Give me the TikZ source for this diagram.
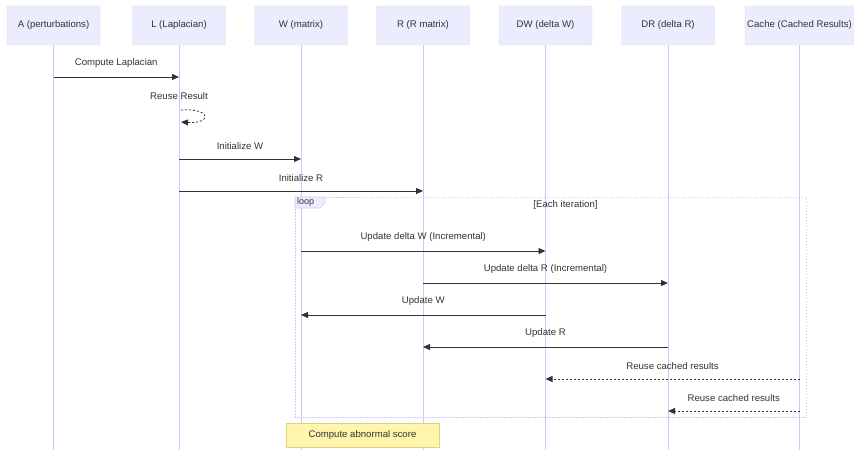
\documentclass[tikz,border=0pt]{standalone}
\usepackage{fontspec}
\setmainfont{Liberation Sans}
\usetikzlibrary{arrows.meta}
\definecolor{actorfill}{HTML}{ECECFF}
\definecolor{actorline}{HTML}{DCD8F6}
\definecolor{lifecol}{HTML}{CFC8F4}
\definecolor{ink}{HTML}{333333}
\definecolor{notefill}{HTML}{FFF5AD}
\definecolor{noteline}{HTML}{DDD47A}
\tikzset{
  actor/.style={draw=actorline,fill=actorfill,rounded corners=1pt,minimum width=93pt,minimum height=39pt,
    text=ink,font=\fontsize{9.6}{11}\selectfont,inner sep=2pt},
  lifeline/.style={draw=lifecol,line width=0.8pt},
  msg/.style={draw=ink,line width=0.8pt,-{Triangle[length=7pt,width=6pt]}},
  reply/.style={msg,dash pattern=on 2pt off 2pt},
  msglabel/.style={text=ink,font=\fontsize{9.6}{11}\selectfont,above=6pt},
  loopframe/.style={draw=lifecol,line width=0.6pt,dash pattern=on 1.5pt off 1.5pt},
  notebox/.style={draw=noteline,fill=notefill,minimum width=153pt,minimum height=24pt,
    text=ink,font=\fontsize{9.6}{11}\selectfont}
}
\begin{document}
\begin{tikzpicture}[x=1pt,y=-1pt]
\useasboundingbox[fill=white] (0,0) rectangle (854,450);
% participants
\node[actor] (A) at (53.5,25.5) {A (perturbations)};
\node[actor] (L) at (179,25.5) {L (Laplacian)};
\node[actor] (W) at (301,25.5) {W (matrix)};
\node[actor] (R) at (423,25.5) {R (R matrix)};
\node[actor] (DW) at (545.5,25.5) {DW (delta W)};
\node[actor] (DR) at (668,25.5) {DR (delta R)};
\node[actor,minimum width=109pt] (Cache) at (799.5,25.5) {Cache (Cached Results)};
% lifelines
\coordinate (bot) at (0,450);
\draw[lifeline] (A.south) -- (A |- bot);
\draw[lifeline] (L.south) -- (L |- bot);
\draw[lifeline] (W.south) -- (W |- bot);
\draw[lifeline] (R.south) -- (R |- bot);
\draw[lifeline] (DW.south) -- (DW |- bot);
\draw[lifeline] (DR.south) -- (DR |- bot);
\draw[lifeline] (Cache.south) -- (Cache |- bot);
% loop frame
\draw[loopframe] (295,197) rectangle (806,417);
\draw[draw=lifecol,fill=actorfill,line width=0.6pt] (295,197) -- (325,197) -- (325,203) -- (320,208) -- (295,208) -- cycle;
\node[text=ink,font=\fontsize{9}{10}\selectfont,anchor=west,inner sep=0pt] (looptag) at (297,202.5) {loop};
\node[text=ink,font=\fontsize{9.6}{11}\selectfont,inner sep=0pt] (loopcond) at (565.5,205.5) {[Each iteration]};
% messages
\coordinate (m1) at (0,77);
\draw[msg] (A |- m1) -- (L |- m1) node[msglabel,midway] (t1) {Compute Laplacian};
\coordinate (m2a) at (181,110);
\coordinate (m2b) at (181,122);
\node[msglabel,above=0pt] (t2) at (179,109) {Reuse Result};
\draw[reply] (m2a) .. controls (212,108) and (212,124) .. (m2b);
\coordinate (m3) at (0,159);
\draw[msg] (L |- m3) -- (W |- m3) node[msglabel,midway] (t3) {Initialize W};
\coordinate (m4) at (0,191);
\draw[msg] (L |- m4) -- (R |- m4) node[msglabel,midway] (t4) {Initialize R};
\coordinate (m5) at (0,251);
\draw[msg] (W |- m5) -- (DW |- m5) node[msglabel,midway] (t5) {Update delta W (Incremental)};
\coordinate (m6) at (0,283);
\draw[msg] (R |- m6) -- (DR |- m6) node[msglabel,midway] (t6) {Update delta R (Incremental)};
\coordinate (m7) at (0,315);
\draw[msg] (DW |- m7) -- (W |- m7) node[msglabel,midway] (t7) {Update W};
\coordinate (m8) at (0,347);
\draw[msg] (DR |- m8) -- (R |- m8) node[msglabel,midway] (t8) {Update R};
\coordinate (m9) at (0,379);
\draw[reply] (Cache |- m9) -- (DW |- m9) node[msglabel,midway] (t9) {Reuse cached results};
\coordinate (m10) at (0,411);
\draw[reply] (Cache |- m10) -- (DR |- m10) node[msglabel,midway] (t10) {Reuse cached results};
% note
\node[notebox] (score) at (362.5,435) {Compute abnormal score};
\end{tikzpicture}
\end{document}
